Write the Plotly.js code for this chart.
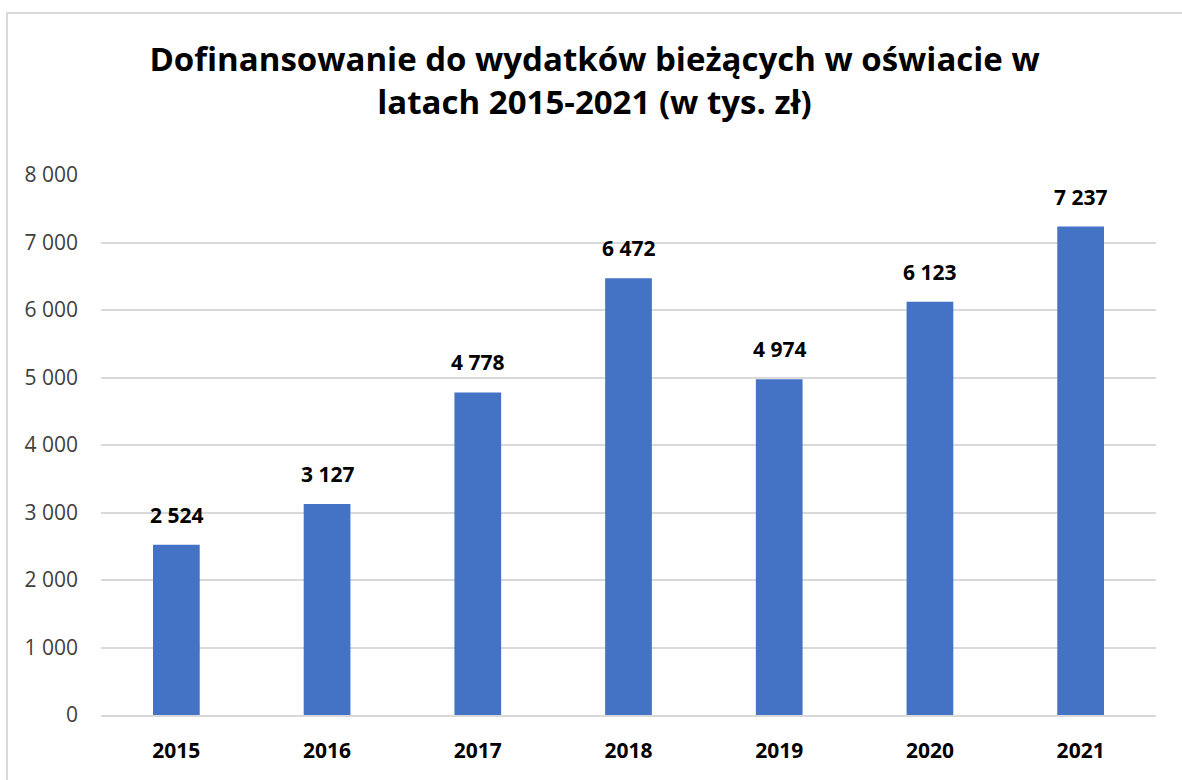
<!DOCTYPE html>
<html>
<head>
<meta charset="utf-8">
<script src="https://cdn.plot.ly/plotly-3.0.1.min.js"></script>
<style>
html,body{margin:0;padding:0;background:#fff;overflow:hidden;}
#frame{position:absolute;left:6px;top:12px;width:1200px;height:800px;border:2px solid #d9d9d9;box-sizing:border-box;pointer-events:none;z-index:5;}
#chart{position:absolute;left:0;top:0;width:1182px;height:780px;}
</style>
</head>
<body>
<div id="chart"></div>
<div id="frame"></div>
<script>
const years = ["2015","2016","2017","2018","2019","2020","2021"];
const values = [2524, 3127, 4778, 6472, 4974, 6123, 7237];
const yTicks = [0,1000,2000,3000,4000,5000,6000,7000,8000];
const titleText = "Dofinansowanie do wydatków bieżących w oświacie w<br>latach 2015-2021 (w tys. zł)";

const fontFam = "'Open Sans', 'Noto Sans', sans-serif";

const fmt = v => String(v).replace(/\B(?=(\d{3})+(?!\d))/g, ' ');

const labels = years.map((yr, i) => ({
  x: i,
  y: values[i],
  xref: 'x',
  yref: 'y',
  text: fmt(values[i]),
  showarrow: false,
  yanchor: 'bottom',
  yshift: 14,
  font: {family: fontFam, size: 21, color: '#000', weight: 'bold'}
}));

Plotly.newPlot('chart', [{
  type: 'bar',
  x: years,
  y: values,
  marker: {color: '#4472C4'},
  hoverinfo: 'x+y'
}], {
  width: 1182,
  height: 780,
  separators: ', ',
  margin: {l: 101, r: 26, t: 175, b: 65},
  paper_bgcolor: '#fff',
  plot_bgcolor: '#fff',
  bargap: 0.69,
  showlegend: false,
  annotations: labels,
  title: {
    text: titleText,
    x: 0.503,
    xanchor: 'center',
    y: 0.909,
    yanchor: 'middle',
    font: {family: fontFam, size: 33, color: '#000', weight: 'bold'}
  },
  xaxis: {
    type: 'category',
    categoryarray: years,
    range: [-0.5, years.length - 0.5],
    tickfont: {family: fontFam, size: 21, color: '#000', weight: 'bold'},
    showgrid: false,
    showline: true,
    linecolor: '#d9d9d9',
    linewidth: 2,
    ticks: '',
    ticklabelstandoff: 16
  },
  yaxis: {
    range: [0, 8000],
    tickvals: yTicks,
    tickformat: ',d',
    tickfont: {family: fontFam, size: 21, color: '#404040'},
    showgrid: true,
    gridcolor: '#d9d9d9',
    gridwidth: 2,
    zeroline: false,
    showline: false,
    ticks: '',
    ticklabelstandoff: 22
  }
}, {displayModeBar: false, staticPlot: true});
</script>
</body>
</html>
